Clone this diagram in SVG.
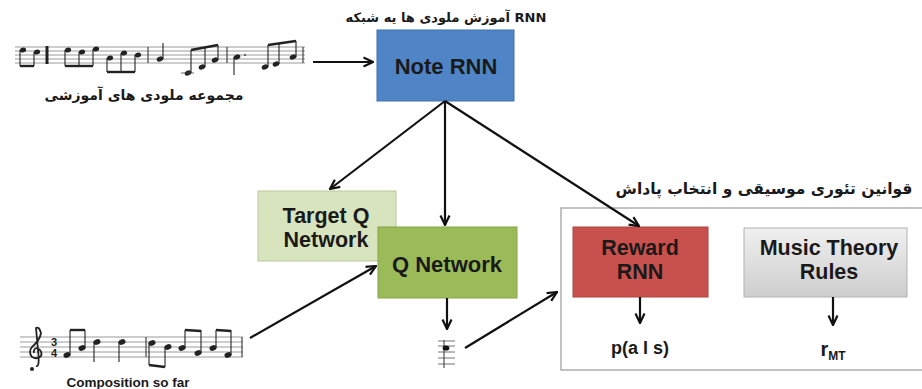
<svg xmlns="http://www.w3.org/2000/svg" width="922" height="389" viewBox="0 0 922 389">
<defs>
<marker id="ah" viewBox="0 0 12 12" refX="11" refY="6" markerWidth="12" markerHeight="12" markerUnits="userSpaceOnUse" orient="auto">
<path d="M1.5,1.5 L11,6 L1.5,10.5" fill="none" stroke="#111" stroke-width="2.2" stroke-linejoin="miter"/>
</marker>
<linearGradient id="gray" x1="0" y1="0" x2="0" y2="1">
<stop offset="0" stop-color="#f0f0f0"/>
<stop offset="1" stop-color="#cdcdcd"/>
</linearGradient>
<style>
.lbl{font-family:"Liberation Sans",Arial,sans-serif;font-weight:bold;fill:#1a1a1a;text-anchor:middle}
.fa{font-family:"DejaVu Sans",sans-serif;fill:#1a1a1a;text-anchor:middle}
.conn{stroke:#111;stroke-width:2.2;fill:none;marker-end:url(#ah)}
.staff{stroke:#9a9a9a;stroke-width:1}
.nh{fill:#222}
.st{stroke:#222;stroke-width:1.1}
.bm{stroke:#222;stroke-width:2.4}
.bar{stroke:#444;stroke-width:1.2}
</style>
</defs>
<rect width="922" height="389" fill="#fff"/>

<!-- training melodies staff -->
<g id="training-melodies">
<g class="staff">
<line x1="15" y1="47" x2="305" y2="47"/><line x1="15" y1="51" x2="305" y2="51"/><line x1="15" y1="55" x2="305" y2="55"/><line x1="15" y1="59" x2="305" y2="59"/><line x1="15" y1="63" x2="305" y2="63"/>
</g>
<line x1="47" y1="46" x2="47" y2="64" stroke="#222" stroke-width="3"/>
<line class="bar" x1="148" y1="47" x2="148" y2="63"/>
<line class="bar" x1="227" y1="47" x2="227" y2="63"/>
<line class="bar" x1="303" y1="47" x2="303" y2="63"/>
<!-- m1 -->
<ellipse class="nh" cx="23" cy="50" rx="3.2" ry="2.4" transform="rotate(-20 23 50)"/>
<ellipse class="nh" cx="37" cy="52" rx="3.2" ry="2.4" transform="rotate(-20 37 52)"/>
<line class="st" x1="20" y1="50" x2="20" y2="66"/><line class="st" x1="34" y1="52" x2="34" y2="66"/>
<line class="bm" x1="20" y1="66" x2="34" y2="66"/>
<!-- m2 -->
<ellipse class="nh" cx="68" cy="50" rx="3.2" ry="2.4" transform="rotate(-20 68 50)"/>
<ellipse class="nh" cx="82" cy="52" rx="3.2" ry="2.4" transform="rotate(-20 82 52)"/>
<ellipse class="nh" cx="96" cy="49" rx="3.2" ry="2.4" transform="rotate(-20 96 49)"/>
<line class="st" x1="65" y1="50" x2="65" y2="66"/><line class="st" x1="79" y1="52" x2="79" y2="66"/><line class="st" x1="93" y1="49" x2="93" y2="66"/>
<line class="bm" x1="65" y1="66" x2="93" y2="66"/>
<ellipse class="nh" cx="110" cy="58" rx="3.2" ry="2.4" transform="rotate(-20 110 58)"/>
<ellipse class="nh" cx="124" cy="53" rx="3.2" ry="2.4" transform="rotate(-20 124 53)"/>
<ellipse class="nh" cx="138" cy="55" rx="3.2" ry="2.4" transform="rotate(-20 138 55)"/>
<line class="st" x1="107" y1="58" x2="107" y2="72"/><line class="st" x1="121" y1="53" x2="121" y2="72"/><line class="st" x1="135" y1="55" x2="135" y2="72"/>
<line class="bm" x1="107" y1="72" x2="135" y2="72"/>
<!-- m3 -->
<ellipse class="nh" cx="160" cy="59" rx="3.4" ry="2.5" transform="rotate(-20 160 59)"/>
<line class="st" x1="163" y1="59" x2="163" y2="43"/>
<ellipse class="nh" cx="188" cy="73" rx="3.4" ry="2.5" transform="rotate(-20 188 73)"/>
<ellipse class="nh" cx="202" cy="67" rx="3.4" ry="2.5" transform="rotate(-20 202 67)"/>
<ellipse class="nh" cx="215" cy="60" rx="3.4" ry="2.5" transform="rotate(-20 215 60)"/>
<line class="st" x1="191" y1="73" x2="191" y2="50"/><line class="st" x1="205" y1="67" x2="205" y2="47.5"/><line class="st" x1="218" y1="60" x2="218" y2="45"/>
<line class="bm" x1="191" y1="50" x2="218" y2="45"/>
<line x1="181" y1="73" x2="194" y2="73" stroke="#444" stroke-width="0.8"/>
<!-- m4 -->
<ellipse class="nh" cx="237" cy="57" rx="3.4" ry="2.5" transform="rotate(-20 237 57)"/>
<line class="st" x1="234" y1="57" x2="234" y2="75"/>
<circle cx="245" cy="55" r="0.9" fill="#333"/>
<ellipse class="nh" cx="265" cy="67" rx="3.4" ry="2.5" transform="rotate(-20 265 67)"/>
<ellipse class="nh" cx="276" cy="64" rx="3.4" ry="2.5" transform="rotate(-20 276 64)"/>
<ellipse class="nh" cx="293" cy="57" rx="3.4" ry="2.5" transform="rotate(-20 293 57)"/>
<line class="st" x1="268" y1="67" x2="268" y2="45"/><line class="st" x1="279" y1="64" x2="279" y2="43.5"/><line class="st" x1="296" y1="57" x2="296" y2="41"/>
<line class="bm" x1="268" y1="45" x2="296" y2="41"/>
<text class="fa" x="144" y="100" font-size="14" font-weight="bold">مجموعه ملودی های آموزشی</text>
</g>

<!-- composition so far staff -->
<g id="composition">
<g class="staff">
<line x1="20" y1="337" x2="243" y2="337"/><line x1="20" y1="342" x2="243" y2="342"/><line x1="20" y1="347" x2="243" y2="347"/><line x1="20" y1="352" x2="243" y2="352"/><line x1="20" y1="357" x2="243" y2="357"/>
</g>
<path d="M36,366 Q40,368 38,350 L36,328 Q39,326 41,333 Q40,340 32,347 Q28,352 32,357 Q37,360 41,356 Q43,351 37,348 Q33,349 34,353" fill="none" stroke="#222" stroke-width="1.8"/>
<circle cx="32" cy="369" r="2" fill="#222"/>
<text x="54" y="346" font-family="Liberation Sans,sans-serif" font-weight="bold" font-size="11" fill="#222" text-anchor="middle">3</text>
<text x="54" y="357" font-family="Liberation Sans,sans-serif" font-weight="bold" font-size="11" fill="#222" text-anchor="middle">4</text>
<ellipse class="nh" cx="67" cy="355" rx="3.6" ry="2.7" transform="rotate(-20 67 355)"/>
<ellipse class="nh" cx="82" cy="348" rx="3.6" ry="2.7" transform="rotate(-20 82 348)"/>
<line class="st" x1="70" y1="355" x2="70" y2="330"/><line class="st" x1="85" y1="348" x2="85" y2="330"/>
<line class="bm" x1="70" y1="330" x2="85" y2="330"/>
<ellipse class="nh" cx="97" cy="342" rx="3.6" ry="2.7" transform="rotate(-20 97 342)"/>
<line class="st" x1="94" y1="342" x2="94" y2="362"/>
<ellipse class="nh" cx="122" cy="342" rx="3.6" ry="2.7" transform="rotate(-20 122 342)"/>
<line class="st" x1="119" y1="342" x2="119" y2="362"/>
<line class="bar" x1="146" y1="337" x2="146" y2="357"/>
<ellipse class="nh" cx="152" cy="343" rx="3.6" ry="2.7" transform="rotate(-20 152 343)"/>
<ellipse class="nh" cx="168" cy="347" rx="3.6" ry="2.7" transform="rotate(-20 168 347)"/>
<line class="st" x1="149" y1="343" x2="149" y2="365"/><line class="st" x1="165" y1="347" x2="165" y2="367"/>
<line class="bm" x1="149" y1="365" x2="165" y2="367"/>
<ellipse class="nh" cx="182" cy="348" rx="3.6" ry="2.7" transform="rotate(-20 182 348)"/>
<ellipse class="nh" cx="198" cy="353" rx="3.6" ry="2.7" transform="rotate(-20 198 353)"/>
<line class="st" x1="185" y1="348" x2="185" y2="330"/><line class="st" x1="201" y1="353" x2="201" y2="330"/>
<line class="bm" x1="185" y1="330" x2="201" y2="331"/>
<ellipse class="nh" cx="213" cy="348" rx="3.6" ry="2.7" transform="rotate(-20 213 348)"/>
<ellipse class="nh" cx="228" cy="355" rx="3.6" ry="2.7" transform="rotate(-20 228 355)"/>
<line class="st" x1="216" y1="348" x2="216" y2="330"/><line class="st" x1="231" y1="355" x2="231" y2="330"/>
<line class="bm" x1="216" y1="330" x2="231" y2="331"/>
<line class="bar" x1="242" y1="337" x2="242" y2="357"/>
<text class="lbl" x="128" y="387" font-size="13.5">Composition so far</text>
</g>

<!-- Note RNN -->
<g id="note-rnn">
<text class="fa" x="446" y="22" font-size="13" font-weight="bold">آموزش ملودی ها یه شبکه RNN</text>
<rect x="377" y="30" width="137" height="71" fill="#4f85c6" stroke="#3f70aa" stroke-width="1"/>
<text class="lbl" x="446" y="74" font-size="22">Note RNN</text>
</g>

<!-- Target Q Network -->
<g id="target-q">
<rect x="258" y="191" width="138" height="70" fill="#d8e4be" stroke="#b9c99e" stroke-width="1"/>
<text class="lbl" x="326" y="223" font-size="21.5">Target Q</text>
<text class="lbl" x="326" y="247" font-size="21.5">Network</text>
</g>

<!-- Q Network -->
<g id="q-network">
<rect x="378" y="227" width="139" height="71" fill="#9bbb59" stroke="#86a44a" stroke-width="1"/>
<text class="lbl" x="447" y="272" font-size="22">Q Network</text>
</g>

<!-- action note -->
<g id="action">
<g stroke="#8a8a8a" stroke-width="1.2">
<line x1="438" y1="341" x2="455" y2="341"/><line x1="438" y1="346" x2="455" y2="346"/><line x1="438" y1="352" x2="455" y2="352"/><line x1="438" y1="358" x2="455" y2="358"/><line x1="438" y1="364" x2="455" y2="364"/>
</g>
<line x1="444" y1="340" x2="444" y2="368" stroke="#333" stroke-width="1"/>
<ellipse cx="446" cy="348" rx="3.4" ry="2.6" fill="#111"/>
</g>

<!-- reward group -->
<g id="reward-area">
<text class="fa" x="764" y="194" font-size="15.5" font-weight="bold">قوانین تئوری موسیقی و انتخاب پاداش</text>
<rect x="561" y="208" width="366" height="162" fill="#fff" stroke="#9a9a9a" stroke-width="1.2"/>
</g>

<g id="reward-rnn">
<rect x="573" y="227" width="135" height="70" fill="#c9514d" stroke="#ad433f" stroke-width="1"/>
<text class="lbl" x="640" y="255" font-size="21.5">Reward</text>
<text class="lbl" x="640" y="279" font-size="21.5">RNN</text>
</g>

<g id="music-theory">
<rect x="744" y="228" width="163" height="69" fill="url(#gray)" stroke="#b2b2b2" stroke-width="1"/>
<text class="lbl" x="829" y="255" font-size="21.5">Music Theory</text>
<text class="lbl" x="829" y="279" font-size="21.5">Rules</text>
</g>

<g id="p-as">
<text class="lbl" x="640" y="354" font-size="18">p(a l s)</text>
</g>
<g id="r-mt">
<text class="lbl" x="833" y="356" font-size="20">r<tspan font-size="12" dy="4">MT</tspan></text>
</g>

<!-- connectors -->
<g id="connectors">
<line class="conn" x1="313" y1="62" x2="373" y2="62"/>
<line class="conn" x1="445" y1="101" x2="330" y2="189"/>
<line class="conn" x1="445" y1="101" x2="445" y2="225"/>
<line class="conn" x1="445" y1="101" x2="639" y2="226"/>
<line class="conn" x1="250" y1="338" x2="376" y2="266"/>
<line class="conn" x1="447" y1="298" x2="447" y2="329"/>
<line class="conn" x1="465" y1="348" x2="557" y2="292"/>
<line class="conn" x1="640" y1="297" x2="640" y2="323"/>
<line class="conn" x1="833" y1="297" x2="833" y2="325"/>
</g>
</svg>
